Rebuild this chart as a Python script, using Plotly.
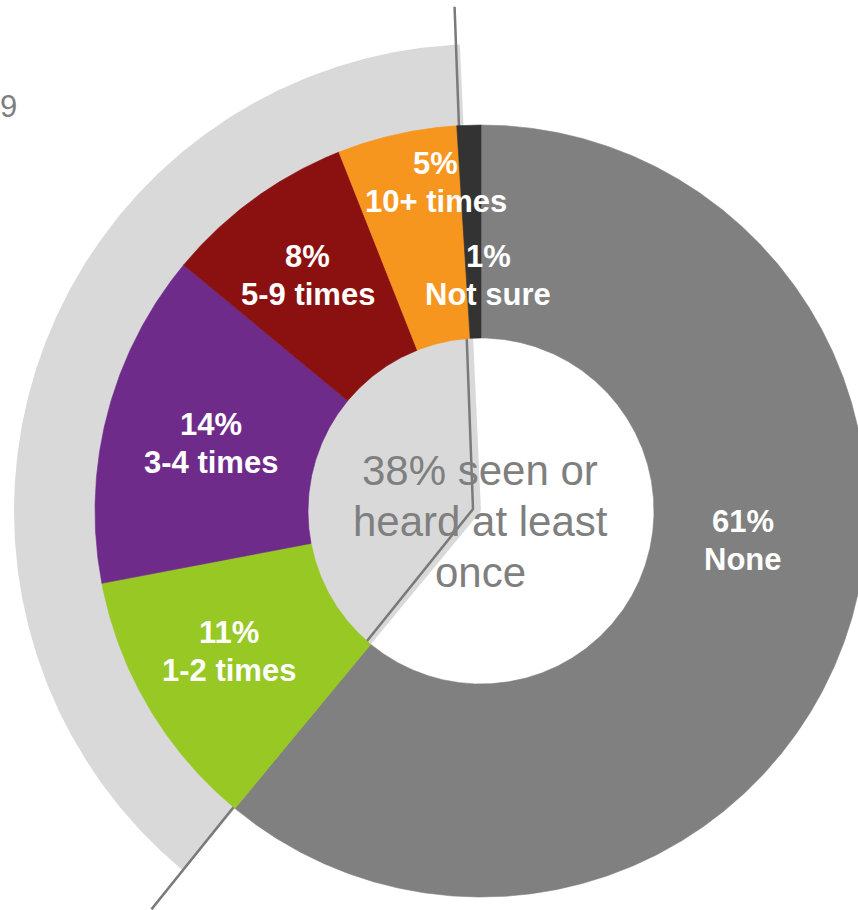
import numpy as np
import plotly.graph_objects as go

# ---- data -------------------------------------------------------------
categories = ["None", "1-2 times", "3-4 times", "5-9 times", "10+ times", "Not sure"]
shares = [61, 11, 14, 8, 5, 1]
seen_groups = ["1-2 times", "3-4 times", "5-9 times", "10+ times"]
center_lines = ["38% seen or", "heard at least", "once"]
corner_text = "9"

# ---- styling ----------------------------------------------------------
colors = {
    "None": "#808080",
    "1-2 times": "#97C823",
    "3-4 times": "#6E2B8A",
    "5-9 times": "#8B1111",
    "10+ times": "#F7961E",
    "Not sure": "#333333",
}
SECTOR_GREY = "#D9D9D9"
LINE_GREY = "#7A7A7A"
TEXT_GREY = "#7F7F7F"
FONT = "Liberation Sans, Arial, sans-serif"

W, H = 858, 910
CX, CY = 481, 511            # donut centre in pixels
R_OUT, R_IN = 386, 173       # donut radii
R_SECTOR = 467               # grey highlight sector radius
SECTOR_PAD = 1.0             # extra degrees at the top end of the highlight
LINE_PAD = 0.6               # extra degrees at the top end of the bracket line
VERTEX = (-8, 2)             # bend point of the bracket line

# label placement: (angle shift in degrees, radius)
label_place = {
    "None": (-13.3, 264),
    "1-2 times": (1.5, 288),
    "3-4 times": (-0.3, 278),
    "5-9 times": (-0.4, 292),
    "10+ times": (4.8, 332),
    "Not sure": (3.5, 236),
}


def pt(theta_deg, r):
    """Clockwise angle from 12 o'clock -> x/y in pixel units around centre."""
    t = np.radians(theta_deg)
    return r * np.sin(t), r * np.cos(t)


def arc(a0, a1, r):
    n = max(int(abs(a1 - a0) * 3), 2)
    th = np.linspace(a0, a1, n)
    return pt(th, r)


total = float(sum(shares))
bounds = np.concatenate([[0.0], np.cumsum(shares) / total * 360.0])
start = dict(zip(categories, bounds[:-1]))
end = dict(zip(categories, bounds[1:]))

fig = go.Figure()

# grey highlight sector behind the "seen" slices
s0 = start[seen_groups[0]]
s1 = end[seen_groups[-1]] + SECTOR_PAD
ax, ay = arc(s0, s1, R_SECTOR)
fig.add_trace(go.Scatter(
    x=np.concatenate([[0], ax, [0]]), y=np.concatenate([[0], ay, [0]]),
    mode="lines", fill="toself", fillcolor=SECTOR_GREY,
    line=dict(width=0, color=SECTOR_GREY), hoverinfo="skip",
))

# bracket line along the edges of the highlighted group
tx, ty = pt(end[seen_groups[-1]] + LINE_PAD, 505)
bx, by = pt(s0, 517)
fig.add_trace(go.Scatter(
    x=[tx, VERTEX[0], bx], y=[ty, VERTEX[1], by],
    mode="lines", line=dict(color=LINE_GREY, width=2.5), hoverinfo="skip",
))

# donut slices
for cat, val in zip(categories, shares):
    a0, a1 = start[cat], end[cat]
    ox, oy = arc(a0, a1, R_OUT)
    ix, iy = arc(a1, a0, R_IN)
    fig.add_trace(go.Scatter(
        x=np.concatenate([ox, ix, ox[:1]]), y=np.concatenate([oy, iy, oy[:1]]),
        mode="lines", fill="toself", fillcolor=colors[cat],
        line=dict(width=0.6, color=colors[cat]),
        name=cat, hoverinfo="name",
    ))

# slice labels
for cat, val in zip(categories, shares):
    shift, rad = label_place[cat]
    mid = (start[cat] + end[cat]) / 2 + shift
    lx, ly = pt(mid, rad)
    for text, dy in ((f"{val}%", 19), (cat, -19)):
        fig.add_annotation(
            x=lx, y=ly + dy, xref="x", yref="y", text=f"<b>{text}</b>",
            showarrow=False, xanchor="center", yanchor="middle",
            font=dict(family=FONT, size=31, color="white"),
        )

# centre caption
for i, line in enumerate(center_lines):
    fig.add_annotation(
        x=-1, y=41 - 51 * i, xref="x", yref="y", text=line,
        showarrow=False, xanchor="center", yanchor="middle",
        font=dict(family=FONT, size=42, color=TEXT_GREY),
    )

# clipped heading fragment at the upper left
fig.add_annotation(
    x=-462, y=405, xref="x", yref="y", text=corner_text,
    showarrow=False, xanchor="right", yanchor="middle",
    font=dict(family=FONT, size=31, color=TEXT_GREY),
)

fig.update_xaxes(range=[-CX, W - CX], visible=False, fixedrange=True)
fig.update_yaxes(range=[-(H - CY), CY], visible=False, fixedrange=True)
fig.update_layout(
    width=W, height=H, margin=dict(l=0, r=0, t=0, b=0),
    paper_bgcolor="white", plot_bgcolor="white",
    showlegend=False,
)

fig.write_html("out.html")
